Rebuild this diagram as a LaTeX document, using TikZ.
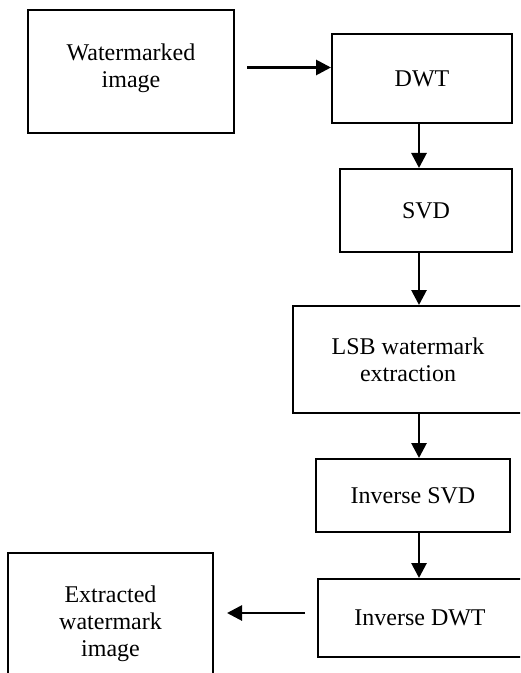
\documentclass[tikz,border=0pt]{standalone}
\usepackage{fontspec}
\setmainfont{Liberation Serif}
\usetikzlibrary{arrows.meta}

\begin{document}
\begin{tikzpicture}[
      x=0.5pt, y=-0.5pt,
      every node/.style={rectangle, line width=1pt, draw=black, align=center, font=\fontsize{12}{13.5}\selectfont, inner sep=0pt},
      pointer/.style={line width=1.4pt, -{Triangle[length=7.5pt,width=7.5pt]}, draw=black},
      spointer/.style={pointer, shorten <=6pt, shorten >=0pt}
      ]

      % Keep the page at the size of the reference, the boxes on the right and below are cut off
      \clip (0,0) rectangle (520,673);
      \useasboundingbox (0,0) rectangle (520,673);

      % All vertical pointers run down one line
      \coordinate (spine) at (419,0);

      % The boxes, placed at their centres
      \node[minimum width=103pt, minimum height=61.5pt] (wm) at (131,71.5) {Watermarked\\image\\[-8pt]};
      \node[minimum width=90pt, minimum height=44.5pt] (dwt) at (422,78.5) {DWT};
      \node[minimum width=86pt, minimum height=41.5pt] (svd) at (426,210.5) {SVD};
      \node[minimum width=115pt, minimum height=53.5pt] (lsb) at (408,359.5) {LSB watermark\\extraction};
      \node[minimum width=97pt, minimum height=36.5pt] (isvd) at (413,495.5) {Inverse SVD};
      \node[minimum width=102pt, minimum height=39pt] (idwt) at (420,618) {Inverse DWT};
      \node[minimum width=102.5pt, minimum height=71pt] (ext) at (110.5,624) {Extracted\\watermark\\image};

      % Now the pointers
      \path ([yshift=2pt]wm.east) edge [spointer] ([yshift=2pt]wm.east -| dwt.west);
      \path (dwt.south -| spine) edge [pointer] (svd.north -| spine);
      \path (svd.south -| spine) edge [pointer] (lsb.north -| spine);
      \path (lsb.south -| spine) edge [pointer] (isvd.north -| spine);
      \path (isvd.south -| spine) edge [pointer] (idwt.north -| spine);
      \path ([yshift=2.5pt]idwt.west) edge [spointer] ([xshift=6.5pt,yshift=2.5pt]idwt.west -| ext.east);
    \end{tikzpicture}
\end{document}
